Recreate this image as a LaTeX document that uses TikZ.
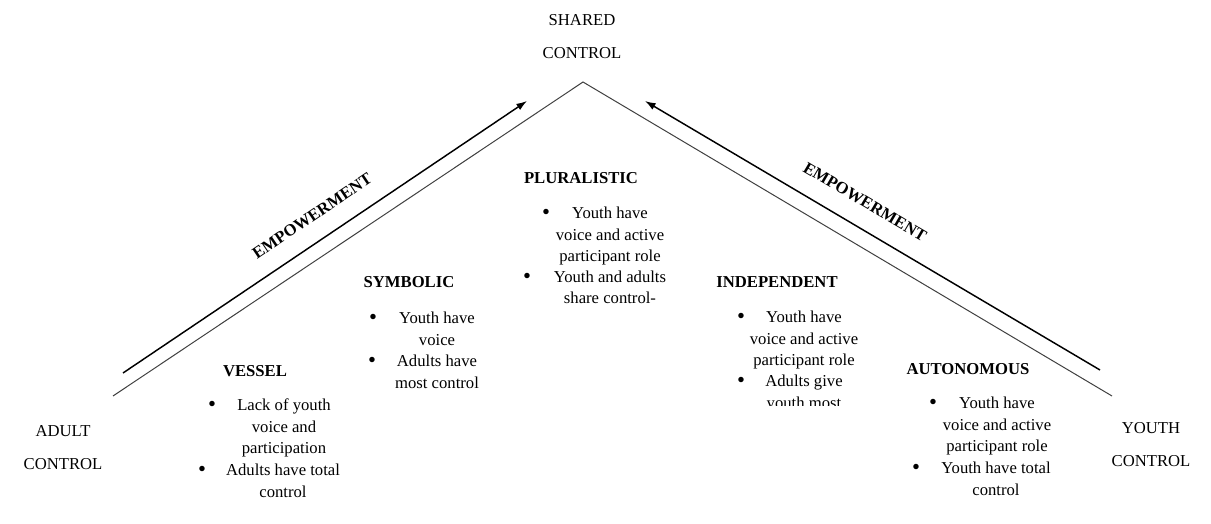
\documentclass[tikz,border=0pt]{standalone}
\usepackage{fontspec}
\setmainfont{Liberation Serif}
\usetikzlibrary{arrows.meta}

\tikzstyle{corner}=[align=center,inner sep=0pt,font=\fontsize{12.5}{24.75}\selectfont]
\tikzstyle{heading}=[inner sep=0pt,font=\bfseries\fontsize{12.5}{15}\selectfont]
\tikzstyle{entry}=[align=center,inner sep=0pt,font=\fontsize{12.5}{16.1}\selectfont]
\tikzstyle{dot}=[inner sep=0pt,font=\fontsize{17}{18}\selectfont]
\tikzstyle{side}=[line width=0.75pt,black!75]
\tikzstyle{push}=[line width=1.1pt,-{Latex[length=8pt,width=5.5pt]}]
\tikzstyle{power}=[inner sep=0pt,font=\bfseries\fontsize{12.5}{15}\selectfont]

\begin{document}
\begin{tikzpicture}[x=0.75pt,y=-0.75pt]
    \useasboundingbox (0,0) rectangle (1211,524);

    % the roof
    \coordinate (apex) at (583,82);
    \coordinate (adultend) at (113,396);
    \coordinate (youthend) at (1112,396);
    \draw[side] (adultend) -- (apex) -- (youthend);

    % empowerment arrows
    \coordinate (lstart) at (123,373);
    \coordinate (ltip) at (527,101);
    \coordinate (rstart) at (1100,370);
    \coordinate (rtip) at (645,101);
    \draw[push] (lstart) -- (ltip);
    \draw[push] (rstart) -- (rtip);
    \node (lpower)[power,rotate=34] at (312,216) {EMPOWERMENT};
    \node (rpower)[power,rotate=-30.6] at (865,202) {EMPOWERMENT};

    % ends and top (base = last line)
    \node (shared)[corner,anchor=base] at (582,59) {SHARED\\CONTROL};
    \node (adult)[corner,anchor=base] at (63,469) {ADULT\\CONTROL};
    \node (youth)[corner,anchor=base] at (1151,466) {YOUTH\\CONTROL};

    % vessel
    \node (vessel)[heading,anchor=base] at (255,376.5) {VESSEL};
    \node (v1dot)[dot,anchor=base] at (212,411.5) {\textbullet};
    \node (v1)[entry,anchor=base] at (284,453.5) {Lack of youth\\voice and\\participation};
    \node (v2dot)[dot,anchor=base] at (202,476.5) {\textbullet};
    \node (v2)[entry,anchor=base] at (283,497) {Adults have total\\control};

    % symbolic
    \node (symbolic)[heading,anchor=base] at (409,287.5) {SYMBOLIC};
    \node (s1dot)[dot,anchor=base] at (373,324.5) {\textbullet};
    \node (s1)[entry,anchor=base] at (437,345) {Youth have\\voice};
    \node (s2dot)[dot,anchor=base] at (372,367.5) {\textbullet};
    \node (s2)[entry,anchor=base] at (437,388) {Adults have\\most control};

    % pluralistic
    \node (pluralistic)[heading,anchor=base] at (581,183.5) {PLURALISTIC};
    \node (p1dot)[dot,anchor=base] at (546,219.5) {\textbullet};
    \node (p1)[entry,anchor=base] at (610,261.5) {Youth have\\voice and active\\participant role};
    \node (p2dot)[dot,anchor=base] at (527,283.5) {\textbullet};
    \node (p2)[entry,anchor=base] at (610,304) {Youth and adults\\share control-};

    % independent
    \node (independent)[heading,anchor=base] at (777,287.5) {INDEPENDENT};
    \node (i1dot)[dot,anchor=base] at (741,323.5) {\textbullet};
    \node (i1)[entry,anchor=base] at (804,365.5) {Youth have\\voice and active\\participant role};
    \node (i2dot)[dot,anchor=base] at (741,387.5) {\textbullet};
    \begin{scope}
        \clip (700,370) rectangle (900,405);
        \node (i2)[entry,anchor=base] at (804,408) {Adults give\\youth most};
    \end{scope}

    % autonomous
    \node (autonomous)[heading,anchor=base] at (968,374.5) {AUTONOMOUS};
    \node (a1dot)[dot,anchor=base] at (933,409.5) {\textbullet};
    \node (a1)[entry,anchor=base] at (997,451.5) {Youth have\\voice and active\\participant role};
    \node (a2dot)[dot,anchor=base] at (916,474.5) {\textbullet};
    \node (a2)[entry,anchor=base] at (996,495) {Youth have total\\control};
\end{tikzpicture}
\end{document}
